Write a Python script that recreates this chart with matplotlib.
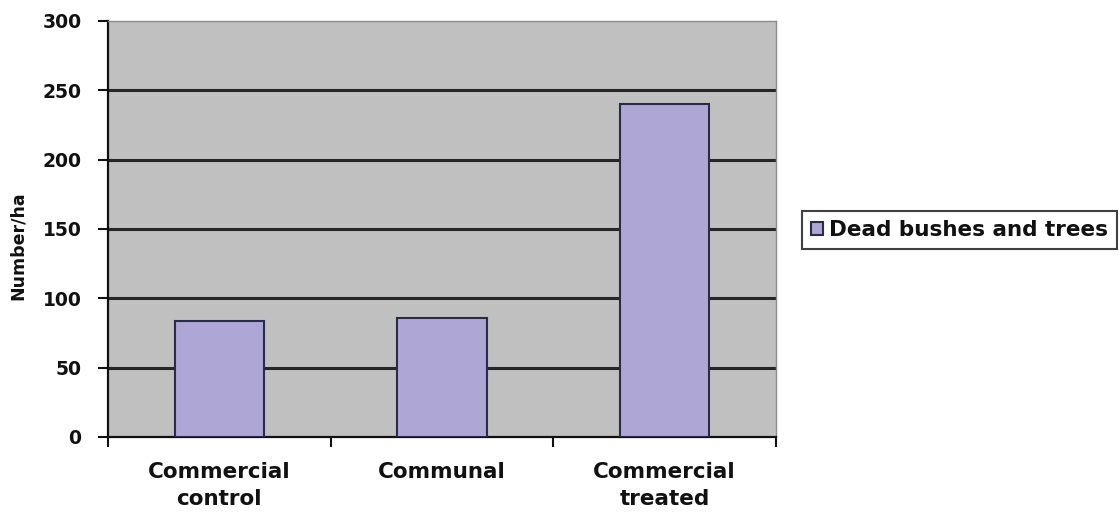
import matplotlib
matplotlib.use("Agg")
import matplotlib.pyplot as plt
import numpy as np

# Data
categories = ["Commercial\ncontrol", "Communal", "Commercial\ntreated"]
dead_bushes = [84, 86, 240]
series_label = "Dead bushes and trees"
y_ticks = [0, 50, 100, 150, 200, 250, 300]

plt.rcParams["font.family"] = ["DejaVu Sans"]
plt.rcParams["font.weight"] = "bold"

fig = plt.figure(figsize=(11.19, 5.18), dpi=100)
ax = fig.add_axes([108 / 1119, 1 - 437 / 518, 668 / 1119, 416 / 518])

ax.set_facecolor("#C0C0C0")
x = np.arange(len(categories))

# Horizontal gridlines (inner ticks only)
for t in y_ticks[1:-1]:
    ax.axhline(t, color="#262626", lw=2.2, zorder=1)

ax.bar(x, dead_bushes, width=0.4, color="#AEA6D4", edgecolor="#2a2a4a",
       linewidth=1.5, zorder=3, label=series_label)

ax.set_xlim(-0.5, len(categories) - 0.5)
ax.set_ylim(y_ticks[0], y_ticks[-1])
ax.set_yticks(y_ticks)
ax.set_yticklabels([str(t) for t in y_ticks], fontsize=13.5, fontweight="bold",
                   color="#111111")

# Category boundaries as tick marks, names centred on the bars
ax.set_xticks(np.arange(-0.5, len(categories), 1.0))
ax.set_xticklabels([])
ax.set_xticks(x, minor=True)
ax.set_xticklabels(categories, minor=True, fontsize=15.5, fontweight="bold",
                   color="#111111", linespacing=1.45)
ax.tick_params(axis="x", which="minor", length=0, pad=18)
ax.tick_params(axis="x", which="major", length=7, width=1.5, direction="out",
               color="#111111")
ax.tick_params(axis="y", length=7, width=1.5, direction="out",
               color="#111111", pad=12)

for side in ("left", "bottom"):
    ax.spines[side].set_color("#111111")
    ax.spines[side].set_linewidth(1.6)
for side in ("top", "right"):
    ax.spines[side].set_color("#8a8a8a")
    ax.spines[side].set_linewidth(1.0)

ax.set_ylabel("Number/ha", fontsize=12.5, fontweight="bold", color="#111111")
ax.yaxis.set_label_coords(-0.121, 0.46)

leg = fig.legend(loc="center left", bbox_to_anchor=(802 / 1119, 1 - 230 / 518),
                 prop={"size": 15.5, "weight": "bold"}, frameon=True,
                 fancybox=False, handlelength=0.55, handleheight=0.55,
                 handletextpad=0.3, borderpad=0.42, borderaxespad=0)
leg.get_frame().set_edgecolor("#111111")
leg.get_frame().set_linewidth(1.5)
for t in leg.get_texts():
    t.set_color("#111111")

fig.savefig("out.png", dpi=100, facecolor="white")
